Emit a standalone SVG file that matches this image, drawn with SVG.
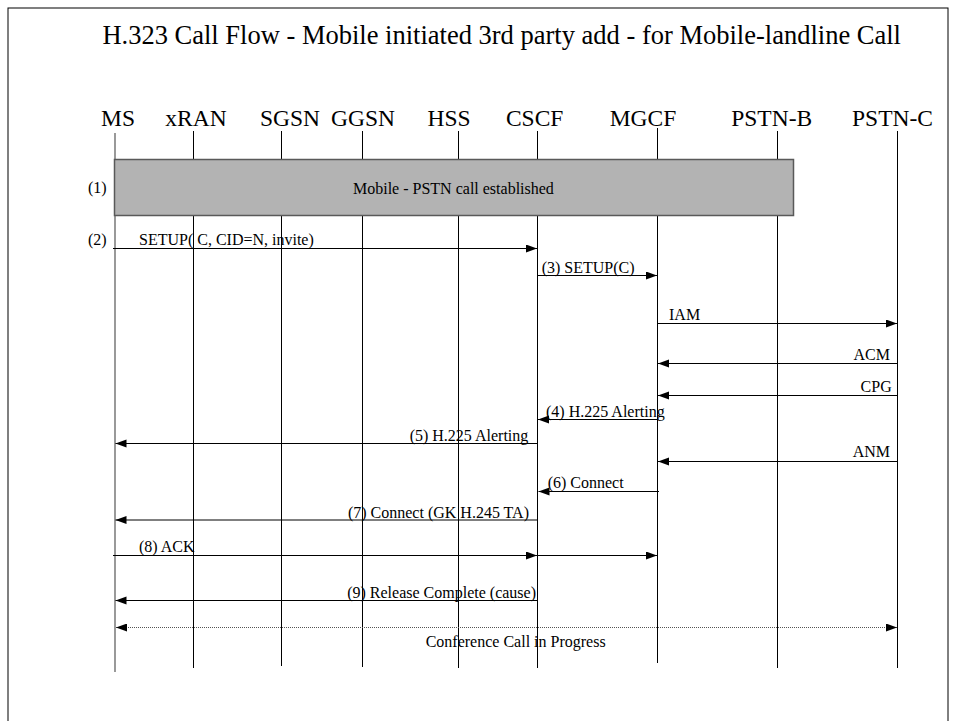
<svg xmlns="http://www.w3.org/2000/svg" width="957" height="721" viewBox="0 0 957 721">
<style>
text{font-family:"Liberation Serif","Times New Roman",serif;fill:#000}
.t{font-size:26.5px}
.h{font-size:23.5px;text-anchor:middle}
.l{font-size:16px}
.e{text-anchor:end}
.ll{stroke:#000;stroke-width:1;fill:none}
.msg{stroke:#000;stroke-width:1;fill:none;marker-end:url(#ah)}
</style>
<defs>
<marker id="ah" markerUnits="userSpaceOnUse" markerWidth="12" markerHeight="9" refX="11" refY="4" orient="auto">
<path d="M0,0 L11,4 L0,8 z" fill="#000"/>
</marker>
<marker id="as" markerUnits="userSpaceOnUse" markerWidth="12" markerHeight="9" refX="0" refY="4" orient="auto">
<path d="M11,0 L0,4 L11,8 z" fill="#000"/>
</marker>
</defs>
<rect x="0" y="0" width="957" height="721" fill="#fff"/>
<rect id="frame" x="8" y="8" width="940" height="730" fill="none" stroke="#000" stroke-width="1"/>
<text class="t" x="501.7" y="44" text-anchor="middle">H.323 Call Flow - Mobile initiated 3rd party add - for Mobile-landline Call</text>

<g id="lifelines">
<g id="MS"><text class="h" x="118" y="126">MS</text><line x1="115" y1="133" x2="115" y2="672" stroke="#808080" stroke-width="1.6"/></g>
<g id="xRAN"><text class="h" x="196" y="126">xRAN</text><line class="ll" x1="193.5" y1="131" x2="193.5" y2="668"/></g>
<g id="SGSN"><text class="h" x="290" y="126">SGSN</text><line class="ll" x1="281.5" y1="131" x2="281.5" y2="666"/></g>
<g id="GGSN"><text class="h" x="363" y="126">GGSN</text><line class="ll" x1="362.5" y1="131" x2="362.5" y2="667"/></g>
<g id="HSS"><text class="h" x="449" y="126">HSS</text><line class="ll" x1="458.5" y1="131" x2="458.5" y2="668"/></g>
<g id="CSCF"><text class="h" x="534.7" y="126">CSCF</text><line class="ll" x1="537.5" y1="131" x2="537.5" y2="668"/></g>
<g id="MGCF"><text class="h" x="643" y="126">MGCF</text><line class="ll" x1="657.5" y1="128" x2="657.5" y2="663"/></g>
<g id="PSTN-B"><text class="h" x="771.7" y="126">PSTN-B</text><line class="ll" x1="777.5" y1="131" x2="777.5" y2="668"/></g>
<g id="PSTN-C"><text class="h" x="892.5" y="126">PSTN-C</text><line class="ll" x1="897.5" y1="131" x2="897.5" y2="668"/></g>
</g>

<g id="established">
<rect x="114.5" y="159.5" width="679" height="56" fill="#b3b3b3" stroke="#595959" stroke-width="1.5"/>
<text class="l" x="88" y="193">(1)</text>
<text class="l" x="353" y="194">Mobile - PSTN call established</text>
</g>

<g id="connectors">
<line class="msg" x1="113" y1="248.5" x2="537" y2="248.5"/>
<line class="msg" x1="537.5" y1="275.5" x2="657" y2="275.5"/>
<line class="msg" x1="657.5" y1="323.5" x2="897" y2="323.5"/>
<line class="msg" x1="897.5" y1="363.5" x2="658" y2="363.5"/>
<line class="msg" x1="897.5" y1="395.5" x2="658" y2="395.5"/>
<line class="msg" x1="657.5" y1="419.5" x2="538" y2="419.5"/>
<line class="msg" x1="537.5" y1="443.5" x2="115.5" y2="443.5"/>
<line class="msg" x1="897.5" y1="461.5" x2="658" y2="461.5"/>
<line class="msg" x1="659" y1="491.5" x2="538.5" y2="491.5"/>
<line class="msg" x1="537.5" y1="520" x2="115.5" y2="520" stroke-width="1.2"/>
<line class="msg" x1="113" y1="555.5" x2="537" y2="555.5"/>
<line class="msg" x1="537.5" y1="555.5" x2="657" y2="555.5"/>
<line class="msg" x1="537.5" y1="600.5" x2="115.5" y2="600.5" stroke-width="1.4"/>
<line x1="116" y1="627.5" x2="897" y2="627.5" stroke="#555" stroke-width="1" stroke-dasharray="1,1" marker-start="url(#as)" marker-end="url(#ah)"/>
</g>

<g id="labels">
<text class="l" x="88" y="245">(2)</text>
<text class="l" x="139" y="245">SETUP( C, CID=N, invite)</text>
<text class="l" x="541.7" y="273">(3) SETUP(C)</text>
<text class="l" x="669" y="320">IAM</text>
<text class="l e" x="890" y="360">ACM</text>
<text class="l e" x="891.7" y="392">CPG</text>
<text class="l" x="546" y="416.5">(4) H.225 Alerting</text>
<text class="l e" x="528.3" y="441">(5) H.225 Alerting</text>
<text class="l e" x="890" y="457">ANM</text>
<text class="l" x="547.7" y="488">(6) Connect</text>
<text class="l e" x="529" y="518">(7) Connect (GK H.245 TA)</text>
<text class="l" x="139" y="552">(8) ACK</text>
<text class="l e" x="536" y="598">(9) Release Complete (cause)</text>
<text class="l" x="425.7" y="647">Conference Call in Progress</text>
</g>
</svg>
